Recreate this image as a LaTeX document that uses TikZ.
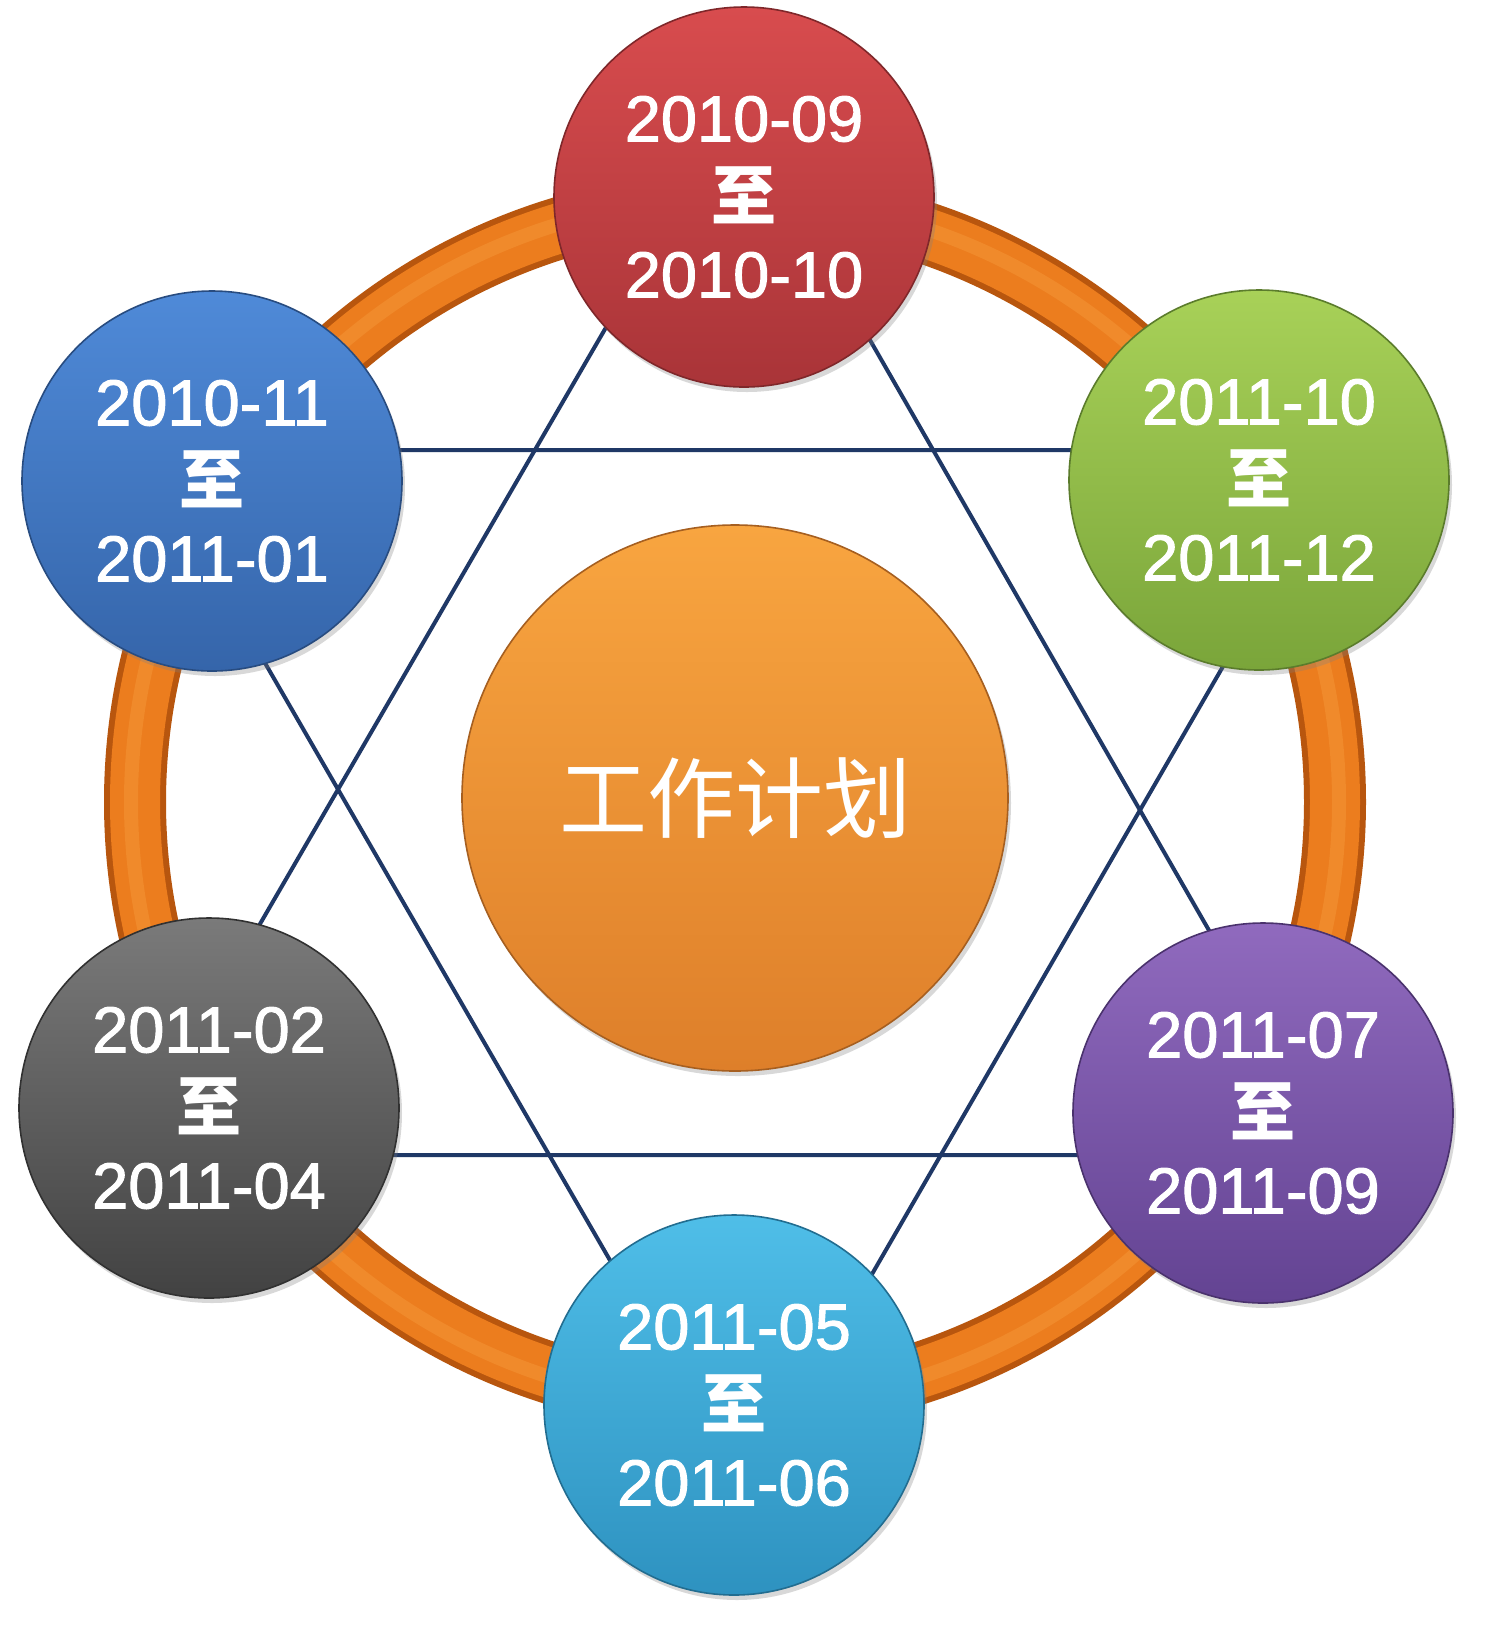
\documentclass[tikz,border=0pt]{standalone}
\usepackage{fontspec}
\setmainfont{Liberation Sans}
\newfontfamily\cjk{Noto Sans CJK SC}
\newfontfamily\numfont{Liberation Sans}[FakeBold=1.5]
\usetikzlibrary{shadows}
\definecolor{ringdark}{HTML}{B8560E}
\definecolor{ringmain}{HTML}{EC7D1E}
\definecolor{ringlight}{HTML}{F59A3C}
\definecolor{starblue}{HTML}{1F3866}
\definecolor{redT}{HTML}{D84C4E}\definecolor{redB}{HTML}{A93438}
\definecolor{bluT}{HTML}{4F8AD8}\definecolor{bluB}{HTML}{3565AA}
\definecolor{grnT}{HTML}{A8D158}\definecolor{grnB}{HTML}{7AA53A}
\definecolor{gryT}{HTML}{7A7A7A}\definecolor{gryB}{HTML}{424242}
\definecolor{purT}{HTML}{906ABE}\definecolor{purB}{HTML}{634392}
\definecolor{cyaT}{HTML}{4FBEE8}\definecolor{cyaB}{HTML}{2E92C0}
\definecolor{ornT}{HTML}{F8A540}\definecolor{ornB}{HTML}{DE7F2A}
\tikzset{
  disc/.style 2 args={circle, inner sep=0pt, top color=#1, bottom color=#2,
    draw=#2!75!black, line width=0.8pt, text=white, align=center,
    drop shadow={opacity=0.3, shadow xshift=1.5pt, shadow yshift=-2.5pt}},
  period/.style 2 args={disc={#1}{#2}, minimum size=190pt,
    font=\numfont\fontsize{32.5}{39}\selectfont},
  hub/.style 2 args={disc={#1}{#2}, minimum size=273pt,
    font=\cjk\fontsize{44}{50}\selectfont},
  starline/.style={draw=starblue, line width=2pt, line join=miter},
}
\newcommand{\zhi}{{\cjk\bfseries 至}}
\begin{document}
\begin{tikzpicture}[x=0.5pt,y=-0.5pt]
\useasboundingbox (0,0) rectangle (1510,1630);
\fill[white] (0,0) rectangle (1510,1630);
% ring
\coordinate (rc) at (735,802);
\draw[line width=31pt, ringdark] (rc) circle[radius=300pt];
\draw[line width=25pt, ringmain] (rc) circle[radius=300pt];
\draw[line width=7pt, ringlight, opacity=0.45] (rc) circle[radius=302pt];
% star of two triangles
\coordinate (u1) at (735,105);
\coordinate (u2) at (126,1155);
\coordinate (u3) at (1338,1155);
\coordinate (d1) at (142,450);
\coordinate (d2) at (1348,450);
\coordinate (d3) at (745,1494);
\draw[starline] (u1) -- (u2) -- (u3) -- cycle;
\draw[starline] (d1) -- (d2) -- (d3) -- cycle;
% discs
\node[period={redT}{redB}] (p1) at (744,197) {2010-09\\\zhi\\2010-10};
\node[period={bluT}{bluB}] (p2) at (212,481) {2010-11\\\zhi\\2011-01};
\node[period={gryT}{gryB}] (p3) at (209,1108) {2011-02\\\zhi\\2011-04};
\node[period={cyaT}{cyaB}] (p4) at (734,1405) {2011-05\\\zhi\\2011-06};
\node[period={purT}{purB}] (p5) at (1263,1113) {2011-07\\\zhi\\2011-09};
\node[period={grnT}{grnB}] (p6) at (1259,480) {2011-10\\\zhi\\2011-12};
\node[hub={ornT}{ornB}] (hub) at (735,798) {工作计划};
\end{tikzpicture}
\end{document}
